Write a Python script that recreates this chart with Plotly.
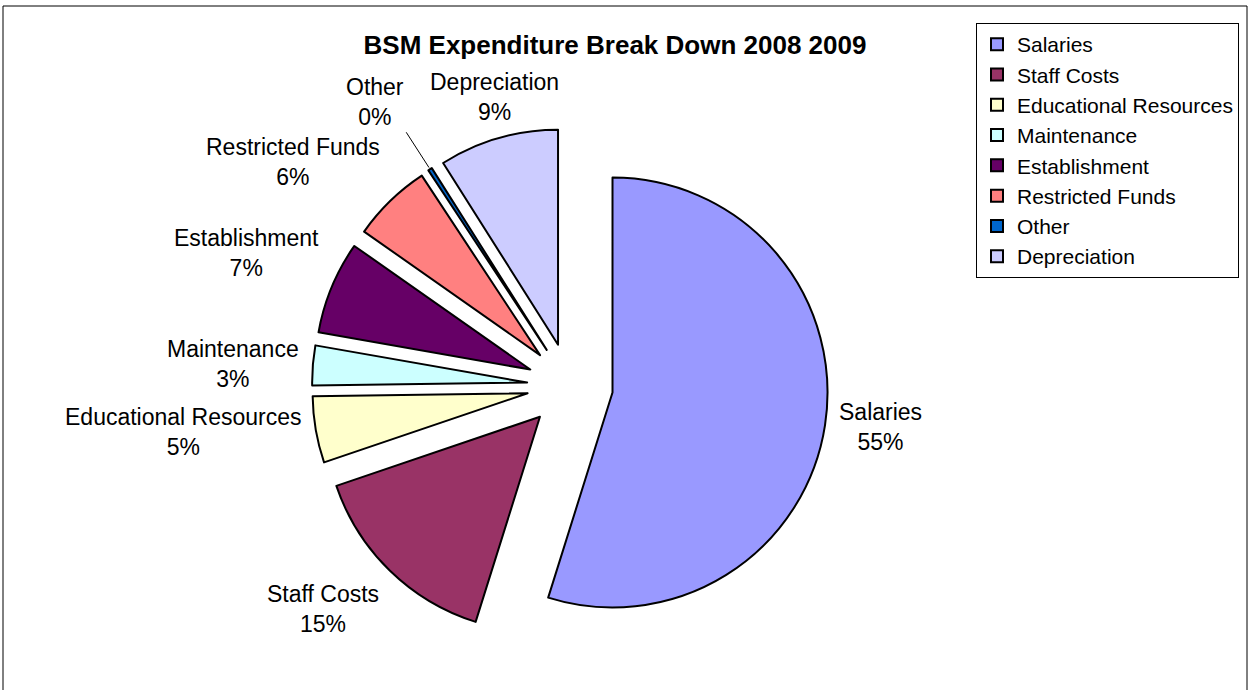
import math
import plotly.graph_objects as go

# Expenditure categories and their values (percent of total spend)
categories = ["Salaries", "Staff Costs", "Educational Resources", "Maintenance",
              "Establishment", "Restricted Funds", "Other", "Depreciation"]
values = [55.0, 15.0, 5.0, 3.0, 7.0, 6.0, 0.3, 9.0]
colors = ["#9999FF", "#993366", "#FFFFCC", "#CCFFFF",
          "#660066", "#FF8080", "#0066CC", "#CCCCFF"]

W, H = 1250, 690
FONT = "Liberation Sans, Arial, sans-serif"
LABEL_SIZE = 23
PULL = 0.2

# pie placement (pixels): centre and the half-size of the square domain
cx, cy, half = 570, 386, 258
radius = half / (1 + PULL)          # plotly: r = min(domain w, h) / (2 + 2 * maxPull)

fig = go.Figure(go.Pie(
    labels=categories,
    values=values,
    sort=False,
    direction="clockwise",
    rotation=0,
    pull=[PULL] * len(values),
    marker=dict(colors=colors, line=dict(color="black", width=2)),
    textinfo="none",
    domain=dict(x=[(cx - half) / W, (cx + half) / W],
                y=[(H - cy - half) / H, (H - cy + half) / H]),
    hoverinfo="label+percent",
    automargin=False,
))


def text_width(s, size):
    """Rough width of a string in an Arial-like face."""
    w = 0.0
    for ch in s:
        if ch in "il.,'|":
            w += 0.23
        elif ch in "tfjr %":
            w += 0.32 if ch != "%" else 0.89
        elif ch in "mwMW":
            w += 0.84
        elif ch.isupper():
            w += 0.70
        else:
            w += 0.56
    return w * size


def to_paper(px, py):
    return px / W, 1 - py / H


# data labels: placed just beyond each pulled slice along its mid-angle,
# pushed further out (with a leader line) when they would collide
total = sum(values)
label_text = [f"{c}<br>{round(100 * v / total):.0f}%" for c, v in zip(categories, values)]
line_h = LABEL_SIZE * 1.3
base_gap = 12

# title region acts as an obstacle for labels
obstacles = [(363, 30, 868, 60)]
order = sorted(range(len(values)), key=lambda i: -values[i])

cum = 0.0
mids = []
for v in values:
    mids.append((cum + v / 2) / total * 2 * math.pi)
    cum += v

annotations = []
shapes = []
for i in order:
    th = mids[i]
    ux, uy = math.sin(th), -math.cos(th)
    lines = label_text[i].split("<br>")
    w = max(text_width(s, LABEL_SIZE) for s in lines)
    h = line_h * len(lines)
    xanchor = "right" if ux < -0.3 else ("left" if ux > 0.3 else "center")
    yanchor = "bottom" if uy < -0.3 else ("top" if uy > 0.3 else "middle")

    def box(gap):
        d = radius * (1 + PULL) + gap
        px, py = cx + d * ux, cy + d * uy
        x0 = px - w if xanchor == "right" else (px if xanchor == "left" else px - w / 2)
        y0 = py - h if yanchor == "bottom" else (py if yanchor == "top" else py - h / 2)
        return px, py, (x0, y0, x0 + w, y0 + h)

    def hits(b):
        return any(b[0] < o[2] and o[0] < b[2] and b[1] < o[3] and o[1] < b[3]
                   for o in obstacles)

    gap = base_gap
    px, py, b = box(gap)
    while hits(b) and gap < 200:
        gap += 2
        px, py, b = box(gap)
    obstacles.append(b)

    if gap > base_gap:
        # leader line from the slice rim to the displaced label
        ex, ey = cx + (radius * (1 + PULL) + 2) * ux, cy + (radius * (1 + PULL) + 2) * uy
        x0p, y0p = to_paper(ex, ey)
        x1p, y1p = to_paper(px, py)
        shapes.append(dict(type="line", xref="paper", yref="paper",
                           x0=x0p, y0=y0p, x1=x1p, y1=y1p,
                           line=dict(color="black", width=1)))

    ax, ay = to_paper(px, py)
    annotations.append(dict(
        x=ax, y=ay, xref="paper", yref="paper", text=label_text[i],
        xanchor=xanchor, yanchor=yanchor, showarrow=False, align="center",
        font=dict(family=FONT, size=LABEL_SIZE, color="black"),
    ))

# chart-area border
shapes.append(dict(type="rect", xref="paper", yref="paper",
                   x0=3 / W, x1=1247 / W, y0=-0.05, y1=1 - 6 / H,
                   line=dict(color="black", width=1), fillcolor="rgba(0,0,0,0)"))

fig.update_layout(
    width=W, height=H,
    margin=dict(l=0, r=0, t=0, b=0, pad=0, autoexpand=False),
    paper_bgcolor="white",
    plot_bgcolor="white",
    font=dict(family=FONT, color="black"),
    title=dict(text="<b>BSM Expenditure Break Down 2008 2009</b>",
               x=615 / W, xanchor="center", y=1 - 45 / H, yanchor="middle",
               font=dict(family=FONT, size=26, color="black")),
    legend=dict(x=976 / W, y=1 - 23 / H, xanchor="left", yanchor="top",
                bordercolor="black", borderwidth=1, bgcolor="white",
                font=dict(family=FONT, size=21, color="black"),
                itemwidth=30, traceorder="normal"),
    annotations=annotations,
    shapes=shapes,
)

fig.write_html("out.html")
